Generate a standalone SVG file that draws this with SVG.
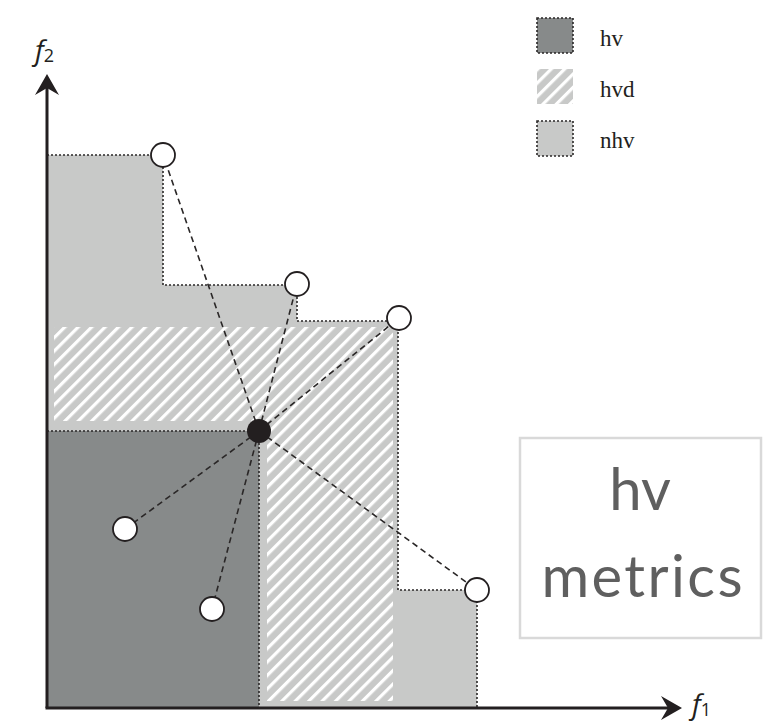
<svg xmlns="http://www.w3.org/2000/svg" width="772" height="725" viewBox="0 0 772 725">
  <style>
    .nhv { fill: #c8c9c8; }
    .hv { fill: #878a8a; }
    .dot { fill: none; stroke: #2a2727; stroke-width: 1.6; stroke-dasharray: 2 2; }
    .conn { fill: none; stroke: #2a2727; stroke-width: 1.6; stroke-dasharray: 6 4; }
    .pt { fill: #ffffff; stroke: #231f20; stroke-width: 1.8; }
    .ref { fill: #231f20; }
    .axis { stroke: #231f20; stroke-width: 3; fill: none; }
    .leg { font-family: "Liberation Serif", "Times New Roman", serif; font-size: 23px; fill: #231f20; }
    .ax { font-family: "Open Sans", "DejaVu Sans", sans-serif; font-style: italic; fill: #231f20; }
    .big { font-family: Lato, "Open Sans", sans-serif; font-weight: 400; font-size: 58px; fill: #5f5f5f; text-anchor: middle; }
  </style>
  <defs>
    <pattern id="hatch" patternUnits="userSpaceOnUse" width="9.5" height="9.5" patternTransform="rotate(45)">
      <rect x="0" y="0" width="3.2" height="9.5" fill="#ffffff"/>
    </pattern>
  </defs>

  <rect width="772" height="725" fill="#ffffff"/>

  <g id="regions">
    <path class="nhv" d="M47,155 H163 V285 H297 V321 H398 V590 H477 V708 H47 Z"/>
    <path fill="url(#hatch)" d="M54,327 H393 V701 H267 V421 H54 Z"/>
    <rect class="hv" x="47" y="431" width="212" height="277"/>
    <path class="dot" d="M47,155 H163 V285 H297 V321 H398 V590 H477 V708"/>
    <path class="dot" d="M47,431 H259 V708"/>
  </g>

  <g id="axes">
    <line class="axis" x1="47" y1="88" x2="47" y2="708"/>
    <line class="axis" x1="45.5" y1="708" x2="668" y2="708"/>
    <path fill="#231f20" d="M47,74 L59,95 L47,88 L35,95 Z"/>
    <path fill="#231f20" d="M682,708 L661,696 L668,708 L661,720 Z"/>
    <text class="ax" x="35" y="60" font-size="28">f<tspan font-style="normal" font-size="18" dy="2">2</tspan></text>
    <text class="ax" x="692" y="714" font-size="28">f<tspan font-style="normal" font-size="18" dy="2">1</tspan></text>
  </g>

  <g id="connectors">
    <line class="conn" x1="259" y1="431" x2="163" y2="155"/>
    <line class="conn" x1="259" y1="431" x2="297" y2="284"/>
    <line class="conn" x1="259" y1="431" x2="399" y2="318"/>
    <line class="conn" x1="259" y1="431" x2="477" y2="590"/>
    <line class="conn" x1="259" y1="431" x2="125" y2="529"/>
    <line class="conn" x1="259" y1="431" x2="212" y2="609"/>
  </g>

  <g id="p1"><circle class="pt" cx="163" cy="155" r="12"/></g>
  <g id="p2"><circle class="pt" cx="297" cy="284" r="12"/></g>
  <g id="p3"><circle class="pt" cx="399" cy="318" r="12"/></g>
  <g id="p4"><circle class="pt" cx="477" cy="590" r="12"/></g>
  <g id="p5"><circle class="pt" cx="125" cy="529" r="12"/></g>
  <g id="p6"><circle class="pt" cx="212" cy="609" r="12"/></g>
  <g id="ref"><circle class="ref" cx="259" cy="431" r="12"/></g>

  <g id="legend">
    <rect class="hv" x="537" y="18" width="36" height="35"/>
    <rect class="dot" x="537" y="18" width="36" height="35"/>
    <text class="leg" x="600" y="46">hv</text>
    <rect class="nhv" x="537" y="69" width="36" height="35"/>
    <rect fill="url(#hatch)" x="537" y="69" width="36" height="35"/>
    <text class="leg" x="600" y="97">hvd</text>
    <rect class="nhv" x="537" y="121" width="36" height="35"/>
    <rect class="dot" x="537" y="121" width="36" height="35"/>
    <text class="leg" x="600" y="148">nhv</text>
  </g>

  <g id="title">
    <rect x="520" y="438" width="241" height="200" fill="#ffffff" stroke="#d9d9d9" stroke-width="2.5"/>
    <text class="big" x="640" y="510">hv</text>
    <text class="big" x="642" y="597" textLength="201" lengthAdjust="spacing">metrics</text>
  </g>
</svg>
